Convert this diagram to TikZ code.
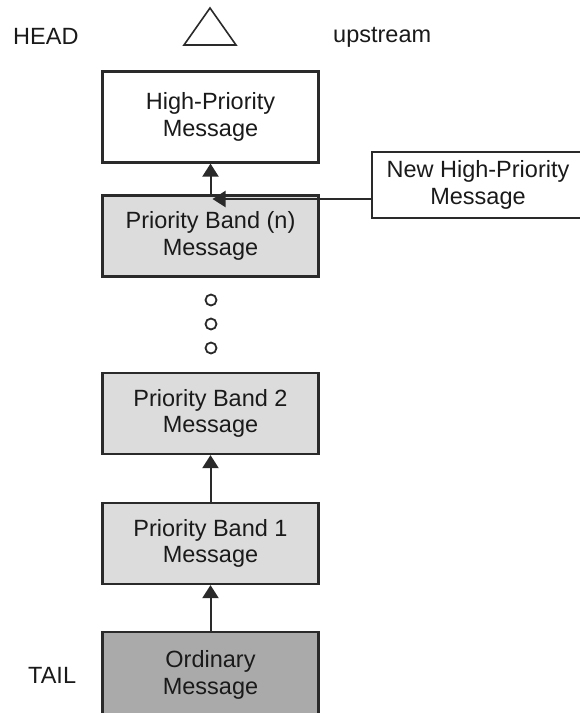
\documentclass[tikz,border=0pt]{standalone}
\usepackage{fontspec}
\setmainfont{Liberation Sans}
\usetikzlibrary{arrows.meta}
\definecolor{lineC}{HTML}{2A2A2A}
\definecolor{textC}{HTML}{1A1A1A}
\definecolor{bandC}{HTML}{DCDCDC}
\definecolor{ordC}{HTML}{AAAAAA}
\tikzset{
  msgbox/.style={draw=lineC, line width=2.2pt, rectangle, minimum width=216pt, minimum height=81pt,
    align=center, text=textC, inner sep=0pt, font=\fontsize{23.5}{26.7}\selectfont},
  plainlabel/.style={text=textC, inner sep=0pt, font=\fontsize{23.5}{26.7}\selectfont},
  conn/.style={draw=lineC, line width=2pt, -{Triangle[length=13pt,width=16pt]}},
  dotc/.style={draw=lineC, line width=1.8pt, circle, minimum size=11pt, inner sep=0pt}
}
\begin{document}
\begin{tikzpicture}[x=1pt,y=1pt]
\useasboundingbox (0,0) rectangle (580,-713);
% header
\node[plainlabel, anchor=west] (head) at (13,-36) {HEAD};
\node[plainlabel, anchor=west] (up) at (333,-37) {upstream};
\draw[lineC, line width=1.6pt, line join=miter] (184,-45) -- (236,-45) -- (210,-8) -- cycle;
% boxes
\node[msgbox, fill=white, minimum height=91pt] (hp) at (210.5,-117) {High-Priority\\Message};
\node[msgbox, fill=bandC] (bn) at (210.5,-236) {Priority Band (n)\\Message};
\node[msgbox, fill=bandC] (b2) at (210.5,-413.5) {Priority Band 2\\Message};
\node[msgbox, fill=bandC] (b1) at (210.5,-543.5) {Priority Band 1\\Message};
\node[msgbox, fill=ordC, minimum height=86pt] (ord) at (210.5,-675) {Ordinary\\Message};
\node[msgbox, fill=white, minimum width=212pt, minimum height=66pt] (new) at (478,-185) {New High-Priority\\Message};
% tail
\node[plainlabel, anchor=west] (tail) at (28,-675) {TAIL};
% dots
\node[dotc] (d1) at (211,-300) {};
\node[dotc] (d2) at (211,-324) {};
\node[dotc] (d3) at (211,-348) {};
% connectors
\draw[conn] (bn.north) -- (hp.south);
\coordinate (join) at (211,-199);
\draw[conn] (new.west |- join) -- ([xshift=1.5pt]join);
\draw[conn] (b1.north) -- (b2.south);
\draw[conn] (ord.north) -- (b1.south);
\end{tikzpicture}
\end{document}
